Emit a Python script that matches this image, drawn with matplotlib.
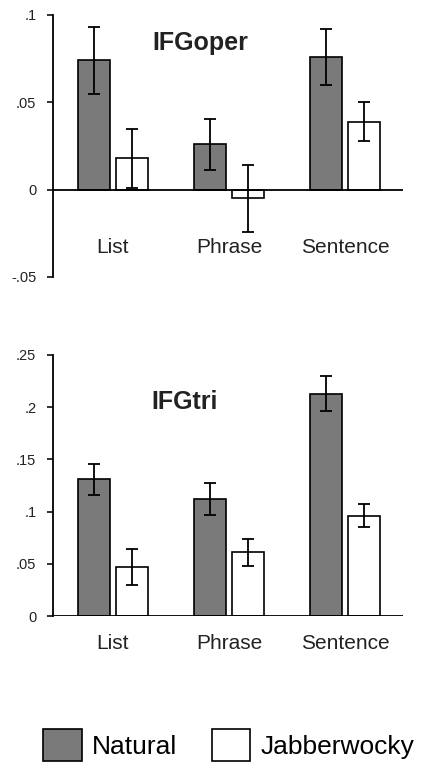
import numpy as np
import matplotlib.pyplot as plt

plt.rcParams['font.family'] = ['Liberation Sans', 'DejaVu Sans']

categories = ['List', 'Phrase', 'Sentence']
series = ['Natural', 'Jabberwocky']

# IFGoper
oper_natural = [0.074, 0.026, 0.076]
oper_natural_err = [0.019, 0.0145, 0.016]
oper_jabber = [0.018, -0.005, 0.039]
oper_jabber_err = [0.017, 0.019, 0.011]

# IFGtri
tri_natural = [0.131, 0.112, 0.213]
tri_natural_err = [0.015, 0.015, 0.017]
tri_jabber = [0.047, 0.061, 0.096]
tri_jabber_err = [0.017, 0.013, 0.011]

oper_ticks = [-0.05, 0, 0.05, 0.1]
oper_ticklabels = ['-.05', '0', '.05', '.1']
tri_ticks = [0, 0.05, 0.1, 0.15, 0.2, 0.25]
tri_ticklabels = ['0', '.05', '.1', '.15', '.2', '.25']

gray = '#7a7a7a'
width = 0.276
offset = 0.164


def draw_panel(ax, nat, nat_err, jab, jab_err, title, title_xy, ticks, ticklabels, ylim, label_y):
    x = np.arange(len(categories))
    eb = dict(ecolor='black', elinewidth=1.3, capsize=4.5, capthick=1.3)
    b1 = ax.bar(x - offset, nat, width, yerr=nat_err, color=gray, edgecolor='black',
                linewidth=1.2, error_kw=eb, label=series[0], zorder=2)
    b2 = ax.bar(x + offset, jab, width, yerr=jab_err, color='white', edgecolor='black',
                linewidth=1.2, error_kw=eb, label=series[1], zorder=2)
    ax.axhline(0, color='black', linewidth=1.3, zorder=3)
    ax.set_xlim(-0.517, 2.5)
    ax.set_ylim(*ylim)
    ax.set_yticks(ticks)
    ax.set_yticklabels(ticklabels)
    ax.set_xticks([])
    for s in ['top', 'right', 'bottom']:
        ax.spines[s].set_visible(False)
    ax.spines['left'].set_linewidth(1.3)
    ax.tick_params(axis='y', length=4, width=1.3, pad=8, labelsize=10.5, colors='#222222')
    for i, c in enumerate(categories):
        t = ax.text(i, label_y, c, ha='center', va='center', fontsize=15, color='#222222')
        t.set_clip_on(False)
    ax.text(title_xy[0], title_xy[1], title, ha='center', va='center',
            fontsize=18, fontweight='bold', color='#222222')
    return b1, b2


fig = plt.figure(figsize=(4.23, 7.64), dpi=100)

ax1 = fig.add_axes([53 / 423, 1 - 277 / 764, 350 / 423, 262 / 764])
draw_panel(ax1, oper_natural, oper_natural_err, oper_jabber, oper_jabber_err,
           'IFGoper', (0.75, 0.084), oper_ticks, oper_ticklabels, (-0.05, 0.1), -0.033)

ax2 = fig.add_axes([53 / 423, 1 - 616 / 764, 350 / 423, 261 / 764])
b1, b2 = draw_panel(ax2, tri_natural, tri_natural_err, tri_jabber, tri_jabber_err,
                    'IFGtri', (0.62, 0.205), tri_ticks, tri_ticklabels, (0, 0.25), -0.026)

fig.legend([b1.patches[0], b2.patches[0]], series, loc='center',
           bbox_to_anchor=(229 / 423, 1 - 745 / 764), ncol=2, frameon=False,
           fontsize=19, handlelength=1.45, handleheight=1.45, handletextpad=0.4,
           columnspacing=1.3)

fig.savefig('out.png', dpi=100)
